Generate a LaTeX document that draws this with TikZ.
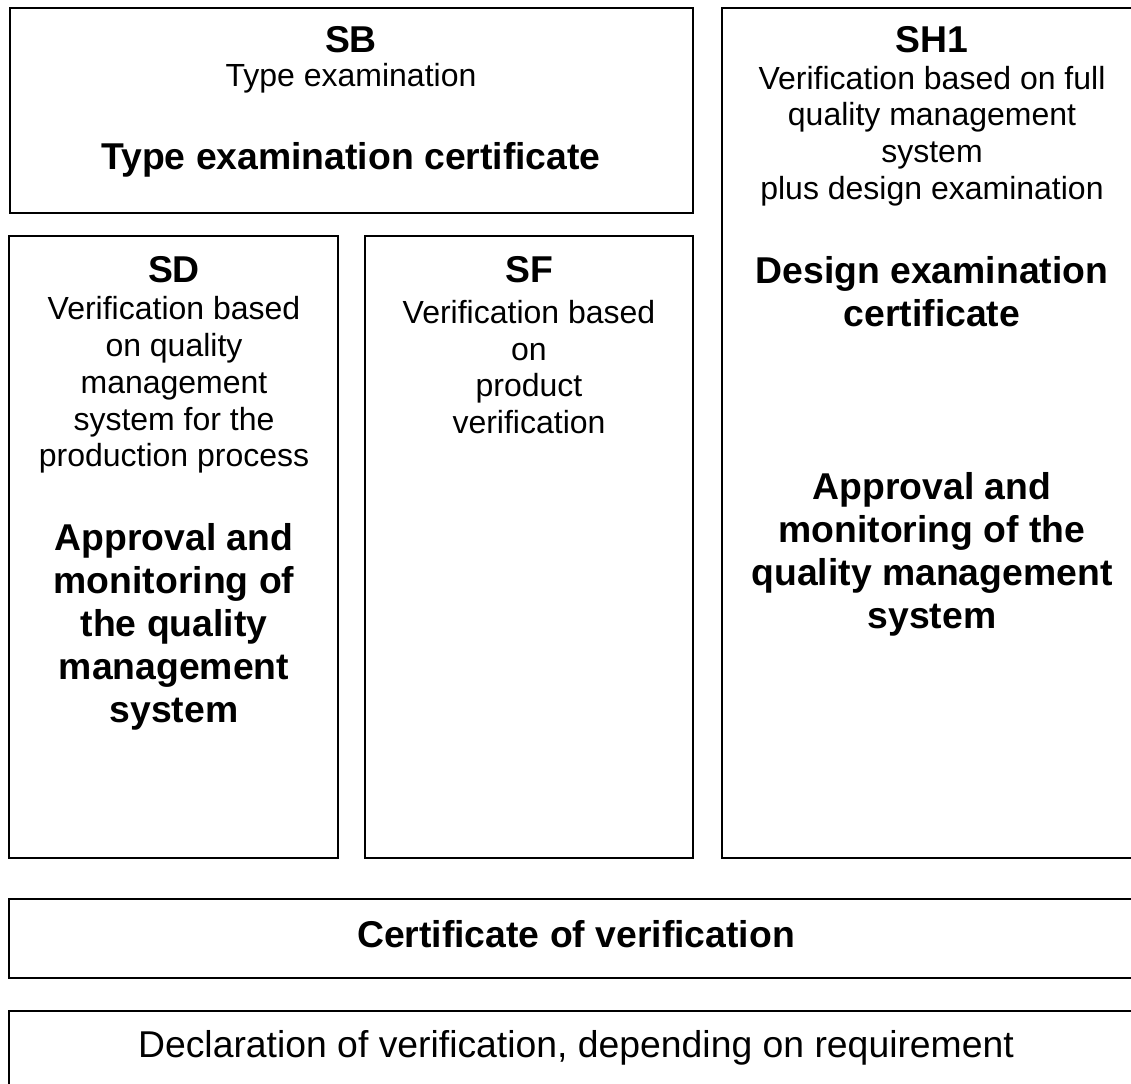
\documentclass[tikz,border=0pt]{standalone}
\usepackage{fontspec}
\setmainfont{Liberation Sans}
\usetikzlibrary{positioning}

\tikzset{
  box/.style={draw, line width=0.75pt, inner sep=0pt},
  head/.style={font=\fontsize{14}{16.1}\selectfont\bfseries, align=center, inner sep=0pt},
  desc/.style={font=\fontsize{12}{13.8}\selectfont, align=center, inner sep=0pt},
  boldtext/.style={font=\fontsize{14}{16.1}\selectfont\bfseries, align=center, inner sep=0pt},
  plaintext/.style={font=\fontsize{14}{16.1}\selectfont, align=center, inner sep=0pt}
}

\begin{document}
\begin{tikzpicture}[x=0.375pt, y=-0.375pt]
  \useasboundingbox (0,0) rectangle (1131,1084);
  \clip (0,0) rectangle (1131,1084);

  % frames
  \node[box, minimum width=256.31pt, minimum height=76.88pt] (sb) at (351.25,110.5) {};
  \node[box, minimum width=157.5pt, minimum height=318.75pt] (sh) at (932,433) {};
  \node[box, minimum width=123.19pt, minimum height=233.25pt] (sd) at (173.75,547) {};
  \node[box, minimum width=123pt, minimum height=233.25pt] (sf) at (529,547) {};
  \node[box, minimum width=424.69pt, minimum height=29.63pt] (cert) at (575.75,938.5) {};
  \node[box, minimum width=424.69pt, minimum height=28.88pt] (decl) at (575.75,1049.5) {};

  % SB
  \node[head] (sbT) at (351,40) {SB};
  \node[desc] (sbD) at (351,78) {Type examination};
  \node[boldtext] (sbE) at (351,160) {Type examination certificate};

  % SH1
  \node[head] (shT) at (932,40) {SH1};
  \node[desc] (shD) at (932,136) {Verification based on full\\quality management\\system\\plus design examination};
  \node[boldtext] (shC) at (932,292) {Design examination\\certificate};
  \node[boldtext] (shE) at (932,554) {Approval and\\monitoring of the\\quality management\\system};

  % SD
  \node[head] (sdT) at (174,270) {SD};
  \node[desc] (sdD) at (174,385) {Verification based\\on quality\\management\\system for the\\production process};
  \node[boldtext] (sdE) at (174,627) {Approval and\\monitoring of\\the quality\\management\\system};

  % SF
  \node[head] (sfT) at (529,270) {SF};
  \node[desc] (sfD) at (529,367) {Verification based\\on\\product\\verification};

  % bottom rows
  \node[boldtext] (certT) at (576,934) {Certificate of verification};
  \node[plaintext] (declT) at (576,1048) {Declaration of verification, depending on requirement};
\end{tikzpicture}
\end{document}
